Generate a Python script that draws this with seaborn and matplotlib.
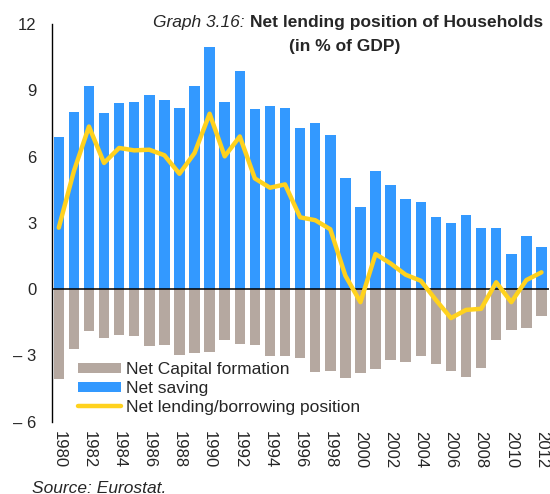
import matplotlib
matplotlib.use("Agg")
import matplotlib.pyplot as plt
import seaborn as sns
import pandas as pd
from matplotlib.patches import Patch
from matplotlib.lines import Line2D

years = list(range(1980, 2013))
net_saving = [6.87, 8.0, 9.2, 7.98, 8.43, 8.46, 8.8, 8.55, 8.18, 9.2,
              10.97, 8.45, 9.86, 8.16, 8.3, 8.19, 7.29, 7.54, 6.99, 5.01,
              3.7, 5.35, 4.72, 4.09, 3.93, 3.27, 3.0, 3.37, 2.77, 2.77,
              1.59, 2.4, 1.91]
net_capital = [-4.06, -2.7, -1.91, -2.23, -2.08, -2.12, -2.58, -2.51, -2.98, -2.9,
               -2.85, -2.29, -2.5, -2.53, -3.01, -3.01, -3.13, -3.75, -3.69, -4.03,
               -3.81, -3.61, -3.22, -3.28, -3.04, -3.37, -3.69, -3.97, -3.55, -2.32,
               -1.87, -1.77, -1.21]
net_lending = [2.78, 5.34, 7.36, 5.71, 6.39, 6.28, 6.31, 6.06, 5.22, 6.16,
               7.94, 6.01, 6.91, 5.01, 4.59, 4.74, 3.25, 3.12, 2.71, 0.61,
               -0.59, 1.59, 1.16, 0.65, 0.38, -0.49, -1.31, -0.94, -0.89, 0.31,
               -0.59, 0.41, 0.76]
series_labels = ["Net Capital formation", "Net saving", "Net lending/borrowing position"]
ytick_vals = [12, 9, 6, 3, 0, -3, -6]
ytick_labels = ["12", "9", "6", "3", "0", "\u2013 3", "\u2013 6"]
xtick_years = list(range(1980, 2013, 2))

C_TAN = "#B5A8A0"
C_BLUE = "#3399FF"
C_YEL = "#FFD21E"

sns.set_style("white")
plt.rcParams["font.family"] = ["Liberation Sans", "DejaVu Sans"]

df = pd.DataFrame({"year": years, "saving": net_saving,
                   "capital": net_capital, "lending": net_lending})

fig = plt.figure(figsize=(5.5, 4.94), dpi=100)
W, H = 550, 494
left, right, top, bottom = 51.7, 549, 24, 421.7
ax = fig.add_axes([left / W, 1 - bottom / H, (right - left) / W, (bottom - top) / H])

sns.barplot(data=df, x="year", y="capital", color=C_TAN, width=0.7,
            native_scale=True, saturation=1, linewidth=0, ax=ax, zorder=2)
sns.barplot(data=df, x="year", y="saving", color=C_BLUE, width=0.7,
            native_scale=True, saturation=1, linewidth=0, ax=ax, zorder=2)
ax.axhline(0, color="black", lw=1.1, zorder=3)
sns.lineplot(data=df, x="year", y="lending", color=C_YEL, lw=3.2, ax=ax, zorder=4)

ax.set_xlim(1979.53, 2012.5)
ax.set_ylim(-6, 12)
ax.set_yticks(ytick_vals)
ax.set_yticklabels(ytick_labels, fontsize=12)
ax.set_xticks(xtick_years)
ax.set_xticklabels([str(y) for y in xtick_years], rotation=-90, fontsize=12)
ax.tick_params(axis="y", length=0, pad=11)
ax.tick_params(axis="x", length=0, pad=7)
ax.set_xlabel("")
ax.set_ylabel("")
for s in ["top", "right", "bottom"]:
    ax.spines[s].set_visible(False)
ax.spines["left"].set_color("black")
ax.spines["left"].set_linewidth(1.0)
ax.grid(False)

handles = [Patch(facecolor=C_TAN, edgecolor="none"),
           Patch(facecolor=C_BLUE, edgecolor="none"),
           Line2D([0], [0], color=C_YEL, lw=3.2)]
leg = ax.legend(handles, series_labels, loc="upper left",
                bbox_to_anchor=(78 / W, 1 - 362 / H), bbox_transform=fig.transFigure,
                frameon=False, fontsize=12.5, handlelength=2.5, handleheight=0.5,
                handletextpad=0.25, labelspacing=0.22, borderpad=0, borderaxespad=0)

t1 = fig.text(543 / W, 1 - 22 / H, "Net lending position of Households",
              fontsize=12.5, fontweight="bold", ha="right", va="center")
ax.annotate("Graph 3.16: ", xy=(0, 0.5), xycoords=t1, fontsize=12.5,
            style="italic", ha="right", va="center", annotation_clip=False)
fig.text(345 / W, 1 - 47 / H, "(in % of GDP)", fontsize=12.5, fontweight="bold",
         ha="center", va="center")
fig.text(32 / W, 1 - 488 / H, "Source: Eurostat.", fontsize=12.5, style="italic",
         ha="left", va="center")

fig.savefig("out.png", dpi=100)
